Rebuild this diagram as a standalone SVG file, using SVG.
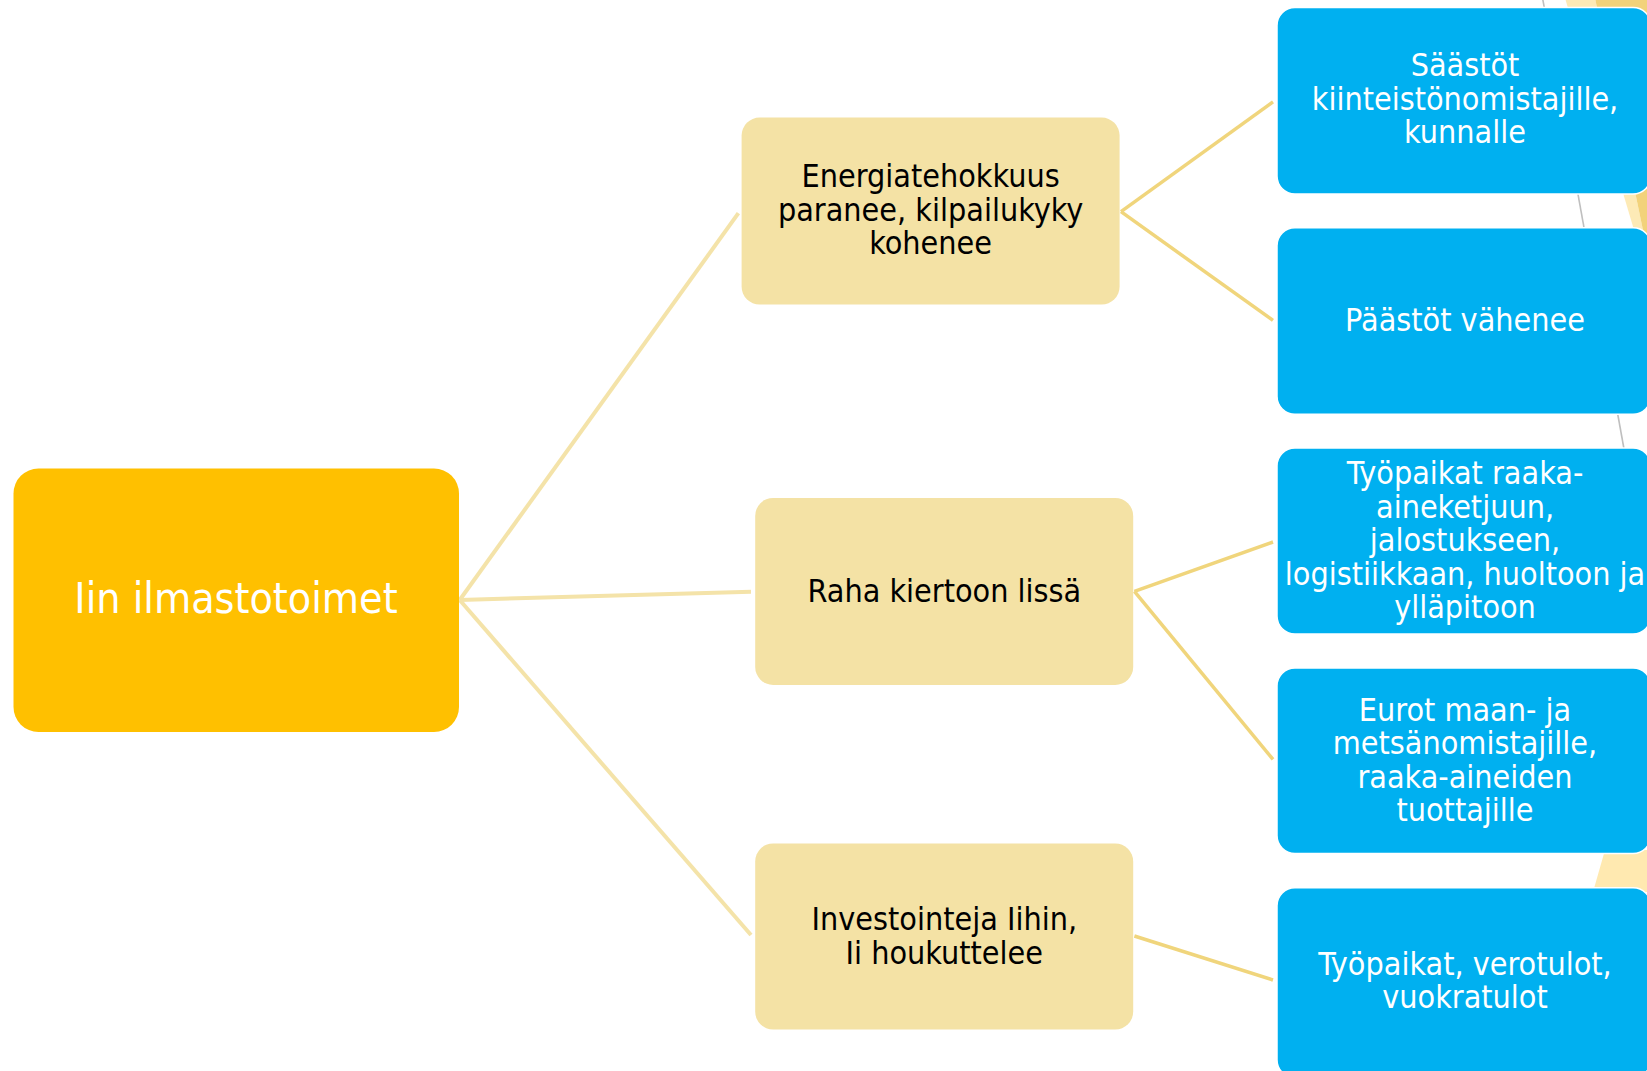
<svg xmlns="http://www.w3.org/2000/svg" width="1647" height="1071" viewBox="0 0 1647 1071">
<style>
text { font-family: "DejaVu Sans Condensed", "DejaVu Sans", sans-serif; font-stretch: condensed; text-anchor: middle; }
.root { fill: #FFC000; }
.tan { fill: #F4E2A5; }
.blue { fill: #00B0F0; stroke: #FFFFFF; stroke-width: 1.5; }
.t-root { font-size: 42.5px; fill: #FFFFFF; }
.t-tan { font-size: 32px; fill: #000000; }
.t-blue { font-size: 32px; fill: #FFFFFF; }
.c1 { stroke: #F4E3A9; stroke-width: 4; fill: none; }
.c2 { stroke: #F0D57C; stroke-width: 3.5; fill: none; }
</style>
<rect x="0" y="0" width="1647" height="1071" fill="#FFFFFF"/>
<g id="background">
  <polygon points="1565,-2 1595,-2 1645,240 1637,240" fill="#FDEAB6"/>
  <polygon points="1595,-2 1700,-2 1700,240 1645,240" fill="#F2D27A"/>
  <polygon points="1605,850 1700,850 1700,892 1593,892" fill="#FFE9B0"/>
  <line x1="1542" y1="-5" x2="1626" y2="460" stroke="#BFBFBF" stroke-width="1.6"/>
</g>
<g id="connectors">
  <line class="c1" x1="459.7" y1="600" x2="738.4" y2="213.2"/>
  <line class="c1" x1="459.7" y1="600" x2="751" y2="591.7"/>
  <line class="c1" x1="459.7" y1="600" x2="751" y2="935"/>
  <line class="c2" x1="1121" y1="211.7" x2="1273" y2="101.9"/>
  <line class="c2" x1="1121" y1="211.7" x2="1273" y2="320.4"/>
  <line class="c2" x1="1134.4" y1="591.4" x2="1273" y2="542"/>
  <line class="c2" x1="1134.4" y1="591.4" x2="1273" y2="759.4"/>
  <line class="c2" x1="1134.4" y1="936" x2="1273" y2="980"/>
</g>
<g id="node-root">
  <rect class="root" x="13.5" y="468.5" width="445.5" height="263.5" rx="25"/>
  <text class="t-root" x="236" y="613">Iin ilmastotoimet</text>
</g>
<g id="node-energia">
  <rect class="tan" x="741.6" y="117.6" width="378" height="187" rx="18"/>
  <text class="t-tan" x="930.6" y="187">Energiatehokkuus</text>
  <text class="t-tan" x="930.6" y="220.6">paranee, kilpailukyky</text>
  <text class="t-tan" x="930.6" y="254.2">kohenee</text>
</g>
<g id="node-raha">
  <rect class="tan" x="755.2" y="497.9" width="378" height="187" rx="18"/>
  <text class="t-tan" x="944.3" y="601.5">Raha kiertoon lissä</text>
</g>
<g id="node-investoinnit">
  <rect class="tan" x="755.2" y="843.5" width="378" height="186" rx="18"/>
  <text class="t-tan" x="944.3" y="930">Investointeja Iihin,</text>
  <text class="t-tan" x="944.3" y="963.6">Ii houkuttelee</text>
</g>
<g id="node-saastot">
  <rect class="blue" x="1277" y="7.5" width="374" height="186.5" rx="18"/>
  <text class="t-blue" x="1465" y="76">Säästöt</text>
  <text class="t-blue" x="1465" y="109.6">kiinteistönomistajille,</text>
  <text class="t-blue" x="1465" y="143.2">kunnalle</text>
</g>
<g id="node-paastot">
  <rect class="blue" x="1277" y="227.7" width="374" height="186.5" rx="18"/>
  <text class="t-blue" x="1465" y="331">Päästöt vähenee</text>
</g>
<g id="node-tyopaikat-raaka">
  <rect class="blue" x="1277" y="448" width="374" height="186" rx="18"/>
  <text class="t-blue" x="1465" y="484">Työpaikat raaka-</text>
  <text class="t-blue" x="1465" y="517.5">aineketjuun,</text>
  <text class="t-blue" x="1465" y="551">jalostukseen,</text>
  <text class="t-blue" x="1465" y="584.5">logistiikkaan, huoltoon ja</text>
  <text class="t-blue" x="1465" y="618">ylläpitoon</text>
</g>
<g id="node-eurot">
  <rect class="blue" x="1277" y="668" width="374" height="185.5" rx="18"/>
  <text class="t-blue" x="1465" y="720.6">Eurot maan- ja</text>
  <text class="t-blue" x="1465" y="754.2">metsänomistajille,</text>
  <text class="t-blue" x="1465" y="787.8">raaka-aineiden</text>
  <text class="t-blue" x="1465" y="821.4">tuottajille</text>
</g>
<g id="node-tyopaikat-vero">
  <rect class="blue" x="1277" y="887.7" width="374" height="190" rx="18"/>
  <text class="t-blue" x="1465" y="974.5">Työpaikat, verotulot,</text>
  <text class="t-blue" x="1465" y="1008.1">vuokratulot</text>
</g>
</svg>
